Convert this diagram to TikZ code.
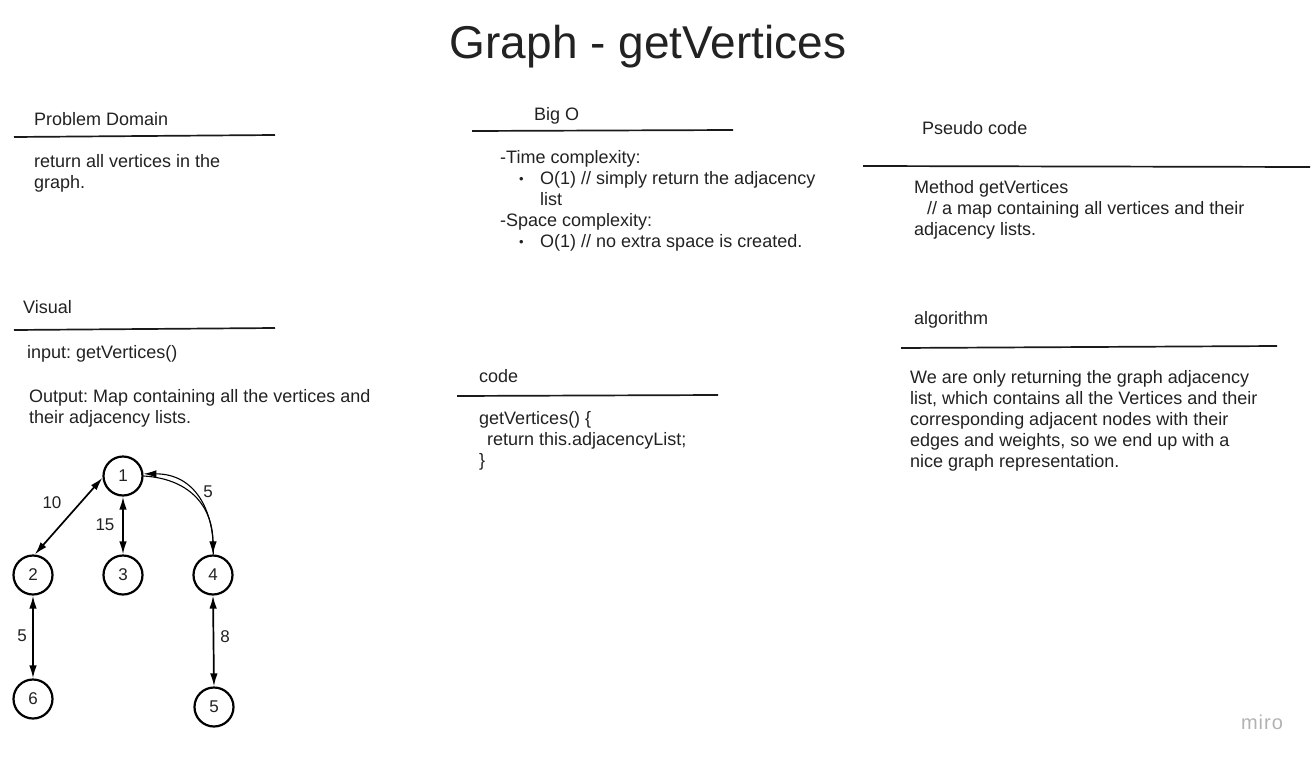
\documentclass[tikz,border=0pt]{standalone}
\usepackage{fontspec}
\setmainfont{Liberation Sans}
\usetikzlibrary{arrows.meta}
\definecolor{textc}{HTML}{222222}
\definecolor{linec}{HTML}{1A1A1A}
\frenchspacing
\begin{document}
\begin{tikzpicture}[x=1pt,y=-1pt,
  txt/.style={anchor=base west, inner sep=0pt, font=\fontsize{18}{21}\selectfont, text=textc},
  bul/.style={anchor=base west, inner sep=0pt, font=\fontsize{13}{13}\selectfont, text=textc},
  hline/.style={line width=1.7pt, draw=linec},
  vert/.style={circle, draw=black, line width=2.2pt, minimum size=39pt, inner sep=0pt, font=\fontsize{17}{17}\selectfont, text=textc},
  biedge/.style={line width=1.7pt, {Latex[length=13pt,width=7.5pt]}-{Latex[length=13pt,width=7.5pt]}},
  lbl/.style={inner sep=0pt, font=\fontsize{17}{17}\selectfont, text=textc}]
\useasboundingbox (0,0) rectangle (1314,760);
\fill[white] (0,0) rectangle (1314,760);

% title
\node[anchor=base, inner sep=0pt, font=\fontsize{46}{46}\selectfont, text=textc] (title) at (648,59) {Graph - getVertices};

% Problem Domain
\node[txt] (pdh) at (34,125) {Problem Domain};
\draw[hline] (14,137) -- (275,135);
\node[txt] (pd1) at (34,167) {return all vertices in the};
\node[txt] (pd2) at (34,188) {graph.};

% Big O
\node[txt] (boh) at (534,120.5) {Big O};
\draw[hline] (472,131) -- (733,130);
\node[txt] (bo1) at (500,163.5) {-Time complexity:};
\node[bul] (bb1) at (519,183.5) {•};
\node[txt] (bo2) at (540,184.5) {O(1) // simply return the adjacency};
\node[txt] (bo3) at (540,205.5) {list};
\node[txt] (bo4) at (500,226.5) {-Space complexity:};
\node[bul] (bb2) at (519,246.5) {•};
\node[txt] (bo5) at (540,247.5) {O(1) // no extra space is created.};

% Pseudo code
\node[txt] (psh) at (922,134.5) {Pseudo code};
\draw[hline] (863,166) -- (1310,167);
\node[txt] (ps1) at (914,193.5) {Method getVertices};
\node[txt] (ps2) at (927,214.5) {// a map containing all vertices and their};
\node[txt] (ps3) at (914,235.5) {adjacency lists.};

% Visual
\node[txt] (vih) at (23,313.5) {Visual};
\draw[hline] (14,330) -- (275,328);
\node[txt] (vi1) at (27,358.5) {input: getVertices()};
\node[txt] (vi2) at (29,402.5) {Output: Map containing all the vertices and};
\node[txt] (vi3) at (29,423.5) {their adjacency lists.};

% code
\node[txt] (cdh) at (479,382.5) {code};
\draw[hline] (457,396) -- (718,395);
\node[txt] (cd1) at (479,424.5) {getVertices() \{};
\node[txt] (cd2) at (487,445.5) {return this.adjacencyList;};
\node[txt] (cd3) at (479,466.5) {\}};

% algorithm
\node[txt] (alh) at (914,324.5) {algorithm};
\draw[hline] (901,348) -- (1277,346);
\node[txt] (al1) at (910,383.5) {We are only returning the graph adjacency};
\node[txt] (al2) at (910,404.5) {list, which contains all the Vertices and their};
\node[txt] (al3) at (910,425.5) {corresponding adjacent nodes with their};
\node[txt] (al4) at (910,446.5) {edges and weights, so we end up with a};
\node[txt] (al5) at (910,467.5) {nice graph representation.};

% graph
\node[vert] (n1) at (123,476) {1};
\node[vert] (n2) at (33,575) {2};
\node[vert] (n3) at (123,575) {3};
\node[vert] (n4) at (213,575) {4};
\node[vert] (n6) at (33,699) {6};
\node[vert] (n5) at (214,707) {5};

\draw[biedge] (n1.185) -- (n2.85);
\draw[biedge] (n1.south) -- (n3.north);
\draw[biedge] (n2.south) -- (n6.north);
\draw[biedge] (n4.south) -- (n5.north);
\draw[line width=1.1pt, {Latex[length=13pt,width=7.5pt]}-] (n1.6) .. controls +(51,0) and +(1,-45) .. (n4.89);
\draw[line width=1.1pt, -{Latex[length=13pt,width=7.5pt]}] (n1.0) .. controls +(50,3) and +(0,-44) .. (n4.north);

\node[lbl] (l10) at (52,503) {10};
\node[lbl] (l15) at (105,525) {15};
\node[lbl] (l5a) at (208,492) {5};
\node[lbl] (l5b) at (22,636) {5};
\node[lbl] (l8) at (225,637) {8};

% logo
\node[anchor=base, inner sep=0pt, font=\fontsize{20}{20}\selectfont, text=black!30] (miro) at (1262,729) {m\kern1pt i\kern1pt r\kern1pt o};
\end{tikzpicture}
\end{document}
